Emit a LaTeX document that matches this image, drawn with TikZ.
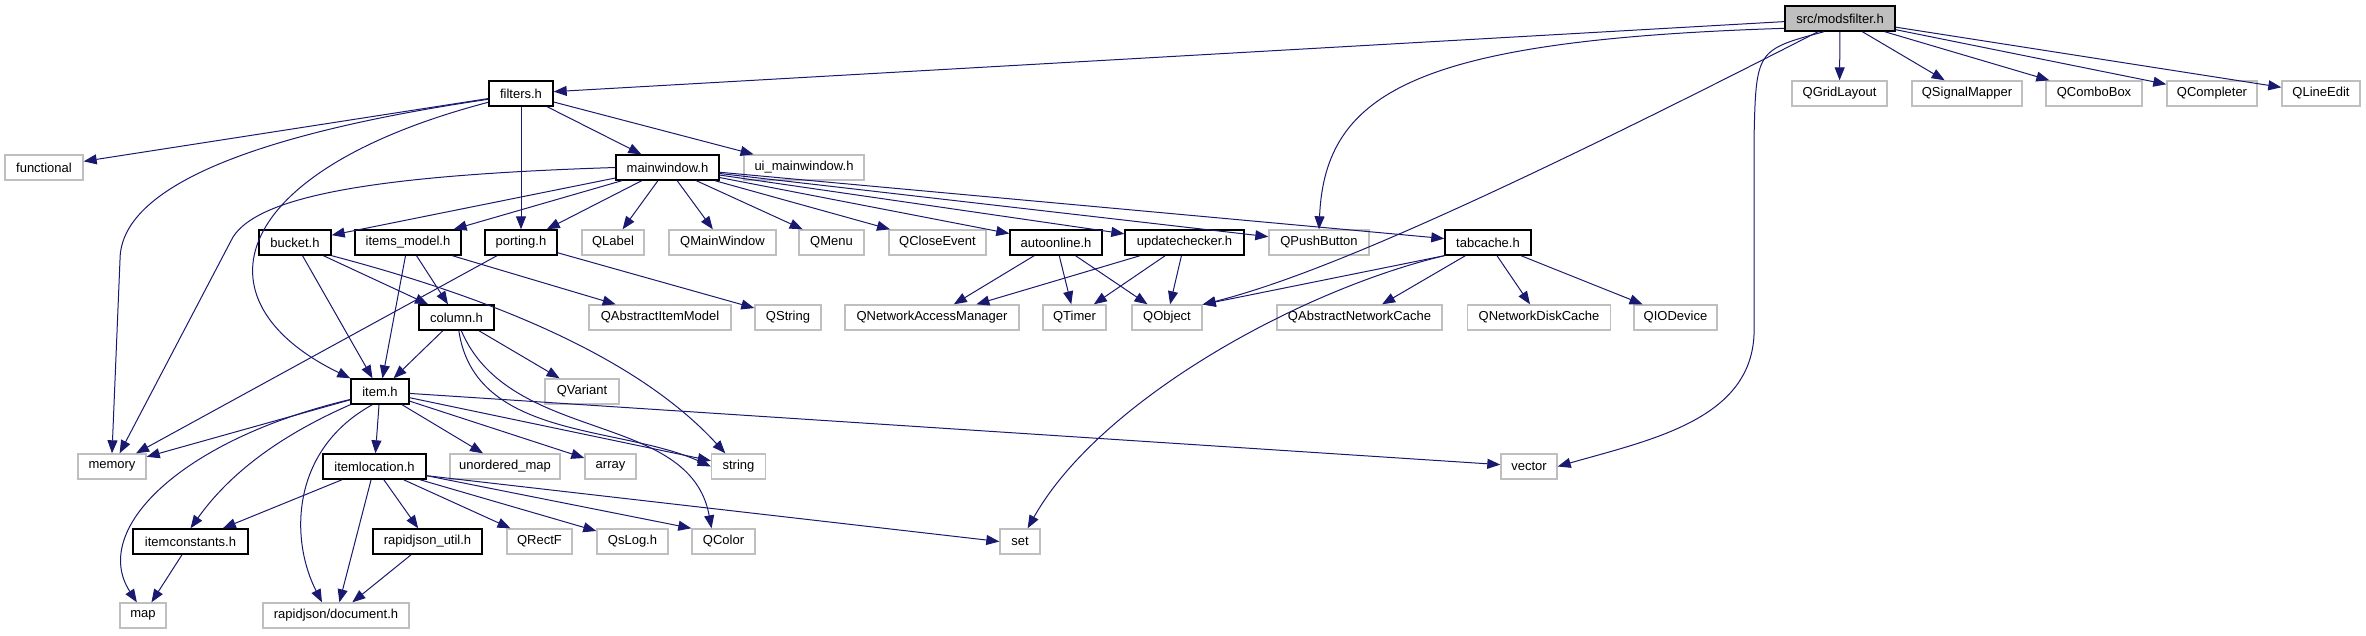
\documentclass[tikz,border=0pt]{standalone}
\usepackage{fontspec}
\setmainfont{Liberation Sans}
\usetikzlibrary{arrows.meta}

\definecolor{azuldep}{HTML}{191970}
\definecolor{grisborde}{HTML}{BFBFBF}

\begin{document}
\begin{tikzpicture}[x=1pt, y=-1pt,
    caja/.style={minimum height=25pt, inner sep=0pt, line width=1.4pt, font=\fontsize{13}{15}\selectfont},
    raiz/.style={caja, draw=black, fill=grisborde},
    cabecera/.style={caja, draw=black, fill=white},
    externo/.style={caja, draw=grisborde, fill=white},
    dep/.style={draw=azuldep, line width=1pt, -{Triangle[length=13pt,width=10pt]}}]

    \useasboundingbox (0,0) rectangle (2366,635); % tamaño de la imagen

    % Fila 0: archivo raíz
    \node[raiz, minimum width=110pt] (mods) at (1840,18.5) {src/modsfilter.h};

    % Fila 1
    \node[cabecera, minimum width=64pt] (filters) at (521,93.5) {filters.h};
    \node[externo, minimum width=95pt] (qgrid) at (1839.5,93.5) {QGridLayout};
    \node[externo, minimum width=110pt] (qsignal) at (1967,93.5) {QSignalMapper};
    \node[externo, minimum width=96pt] (qcombo) at (2094,93.5) {QComboBox};
    \node[externo, minimum width=90pt] (qcompleter) at (2212,93.5) {QCompleter};
    \node[externo, minimum width=78pt] (qlineedit) at (2321,93.5) {QLineEdit};

    % Fila 2
    \node[externo, minimum width=78pt] (functional) at (44,167.5) {functional};
    \node[cabecera, minimum width=103pt] (mainwin) at (667.5,167.5) {mainwindow.h};
    \node[externo, minimum width=120pt] (uimain) at (804,167.5) {ui\_mainwindow.h};

    % Fila 3
    \node[cabecera, minimum width=72pt] (bucket) at (295,242.5) {bucket.h};
    \node[cabecera, minimum width=106pt] (itemsmodel) at (408,242.5) {items\_model.h};
    \node[cabecera, minimum width=72pt] (porting) at (521,242.5) {porting.h};
    \node[externo, minimum width=62pt] (qlabel) at (613,242.5) {QLabel};
    \node[externo, minimum width=107pt] (qmainwindow) at (722.5,242.5) {QMainWindow};
    \node[externo, minimum width=65pt] (qmenu) at (831.5,242.5) {QMenu};
    \node[externo, minimum width=97pt] (qcloseevent) at (937.5,242.5) {QCloseEvent};
    \node[cabecera, minimum width=92pt] (autoonline) at (1056,242.5) {autoonline.h};
    \node[cabecera, minimum width=119pt] (updatechecker) at (1184.5,242.5) {updatechecker.h};
    \node[externo, minimum width=100pt] (qpushbutton) at (1319,242.5) {QPushButton};
    \node[cabecera, minimum width=86pt] (tabcache) at (1488,242.5) {tabcache.h};

    % Fila 4
    \node[cabecera, minimum width=75pt] (column) at (456.5,317.5) {column.h};
    \node[externo, minimum width=142pt] (qabsitemmodel) at (660,317.5) {QAbstractItemModel};
    \node[externo, minimum width=66pt] (qstring) at (788,317.5) {QString};
    \node[externo, minimum width=174pt] (qnam) at (932,317.5) {QNetworkAccessManager};
    \node[externo, minimum width=63pt] (qtimer) at (1074.5,317.5) {QTimer};
    \node[externo, minimum width=70pt] (qobject) at (1167,317.5) {QObject};
    \node[externo, minimum width=165pt] (qabsnetcache) at (1359.5,317.5) {QAbstractNetworkCache};
    \node[externo, minimum width=143pt] (qnetdiskcache) at (1539,317.5) {QNetworkDiskCache};
    \node[externo, minimum width=83pt] (qiodevice) at (1675.5,317.5) {QIODevice};

    % Fila 5
    \node[cabecera, minimum width=58pt] (item) at (380,391.5) {item.h};
    \node[externo, minimum width=74pt] (qvariant) at (582,391.5) {QVariant};

    % Fila 6
    \node[externo, minimum width=68pt] (memory) at (112,466.5) {memory};
    \node[cabecera, minimum width=103pt] (itemlocation) at (374.5,466.5) {itemlocation.h};
    \node[externo, minimum width=110pt] (unorderedmap) at (505,466.5) {unordered\_map};
    \node[externo, minimum width=51pt] (array) at (610.5,466.5) {array};
    \node[externo, minimum width=54pt] (string) at (738.5,466.5) {string};
    \node[externo, minimum width=56pt] (vector) at (1529,466.5) {vector};

    % Fila 7
    \node[cabecera, minimum width=115pt] (itemconstants) at (190.5,541.5) {itemconstants.h};
    \node[cabecera, minimum width=109pt] (rjutil) at (427.5,541.5) {rapidjson\_util.h};
    \node[externo, minimum width=65pt] (qrectf) at (539.5,541.5) {QRectF};
    \node[externo, minimum width=71pt] (qslog) at (632.5,541.5) {QsLog.h};
    \node[externo, minimum width=63pt] (qcolor) at (723.5,541.5) {QColor};
    \node[externo, minimum width=40pt] (set) at (1020,541.5) {set};

    % Fila 8
    \node[externo, minimum width=46pt] (map) at (143,615.5) {map};
    \node[externo, minimum width=146pt] (rjdocument) at (336,615.5) {rapidjson/document.h};

    % Dependencias rectas
    \foreach \a/\b in {mods/filters, mods/qgrid, mods/qsignal, mods/qcombo, mods/qcompleter, mods/qlineedit,
        filters/functional, filters/porting, filters/mainwin, filters/uimain,
        mainwin/bucket, mainwin/itemsmodel, mainwin/porting, mainwin/qlabel, mainwin/qmainwindow, mainwin/qmenu,
        mainwin/qcloseevent, mainwin/autoonline, mainwin/updatechecker, mainwin/qpushbutton, mainwin/tabcache,
        bucket/column, bucket/item, itemsmodel/item, itemsmodel/column, itemsmodel/qabsitemmodel,
        porting/memory, porting/qstring, column/item, column/qvariant,
        item/memory, item/vector, item/unorderedmap, item/array, item/string, item/itemlocation,
        itemlocation/itemconstants, itemlocation/rjdocument, itemlocation/rjutil, itemlocation/qrectf,
        itemlocation/qslog, itemconstants/map, rjutil/rjdocument,
        autoonline/qnam, autoonline/qtimer, autoonline/qobject,
        updatechecker/qnam, updatechecker/qtimer, updatechecker/qobject,
        tabcache/qabsnetcache, tabcache/qnetdiskcache, tabcache/qiodevice} {
        \draw[dep] (\a) -- (\b);
    }
    \draw[dep] (itemlocation.-10) -- (qcolor.north west);
    \draw[dep] (itemlocation.-10) -- (set.west);
    \draw[dep] (tabcache.south west) -- (qobject.20);

    % Dependencias curvas
    \draw[dep] (mods.190) .. controls (1420,40) and (1325,90) .. (qpushbutton.north);
    \draw[dep] ([xshift=-22pt]mods.south) .. controls (1450,220) and (1300,280) .. (qobject.20);
    \draw[dep] ([xshift=-16pt]mods.south) .. controls (1756,50) .. (1754,140) -- (1754,335)
        .. controls (1750,420) and (1650,440) .. (vector.east);
    \draw[dep] (filters.190) .. controls (280,130) and (120,180) .. (120,260) -- (memory.north);
    \draw[dep] (filters.195) .. controls (230,170) and (190,300) .. (item.north west);
    \draw[dep] (mainwin.west) .. controls (380,175) and (260,195) .. (233,237) -- (memory.60);
    \draw[dep] (bucket.south east) .. controls (500,300) and (640,360) .. (string.135);
    \draw[dep] (column.-80) .. controls (475,440) and (620,425) .. (string.west);
    \draw[dep] (column.-70) .. controls (510,445) and (690,410) .. ([xshift=-12pt]qcolor.north);
    \draw[dep] (item.south west) .. controls (270,440) and (225,480) .. (itemconstants.north);
    \draw[dep] (item.-165) .. controls (180,440) and (90,530) .. (map.115);
    \draw[dep] (item.-120) .. controls (290,450) and (290,540) .. ([xshift=-14pt]rjdocument.north);
    \draw[dep] (tabcache.south west) .. controls (1300,290) and (1100,400) .. (set.60);

\end{tikzpicture}
\end{document}
